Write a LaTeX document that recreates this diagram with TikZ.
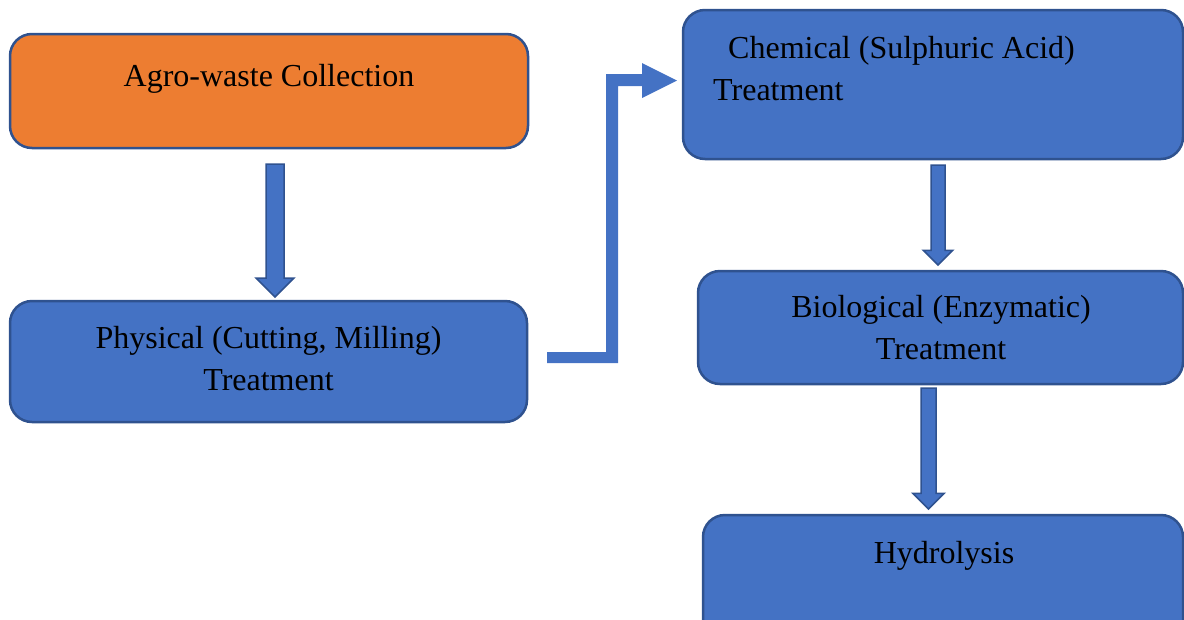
\documentclass[tikz,border=0pt]{standalone}
\usepackage{fontspec}
\setmainfont{Liberation Serif}
\usetikzlibrary{positioning}
\definecolor{boxblue}{HTML}{4472C4}
\definecolor{boxorange}{HTML}{ED7D31}
\definecolor{boxline}{HTML}{2F528F}
\begin{document}
\begin{tikzpicture}
			[
				x = 1pt, y = -1pt,
				mybox/.style = {draw = boxline, line width = 2.5pt, rounded corners = 22pt, fill = boxblue, inner sep = 0pt},
				mytext/.style = {font = \fontsize{32}{42.5}\selectfont, inner sep = 0pt, anchor = base},
				myarrow/.style = {fill = boxblue, draw = boxline, line width = 1.5pt},
				pics/blockdown/.style 2 args = {code = {
					\filldraw [myarrow] (-#2, 0) -- (#2, 0) -- (#2, #1 - 2.1*#2) -- (2.1*#2, #1 - 2.1*#2) -- (0, #1) -- (-2.1*#2, #1 - 2.1*#2) -- (-#2, #1 - 2.1*#2) -- cycle;
				}}
			]
			%
			\useasboundingbox (0, 0) rectangle (1184, 619);
			%
			\node (collect) [mybox, fill = boxorange, minimum width = 518pt, minimum height = 114pt] at (269, 91) {};
			\node (collecttext) [mytext] at (269, 86) {Agro-waste Collection};
			%
			\node (physical) [mybox, minimum width = 517pt, minimum height = 121pt] at (268.5, 361.5) {};
			\node (physicaltext) [mytext] at (268.5, 348) {Physical (Cutting, Milling)};
			\node (physicaltext2) [mytext, below = 0pt of physicaltext.base, anchor = base, yshift = -42.5pt] {Treatment};
			%
			\node (chemical) [mybox, minimum width = 500pt, minimum height = 149pt] at (933, 84.5) {};
			\node (chemicaltext) [mytext, anchor = base west] at (728, 58) {Chemical (Sulphuric Acid)};
			\node (chemicaltext2) [mytext, anchor = base west] at (713, 100.5) {Treatment};
			%
			\node (biological) [mybox, minimum width = 485pt, minimum height = 113pt] at (940.5, 327.5) {};
			\node (biologicaltext) [mytext] at (941, 317) {Biological (Enzymatic)};
			\node (biologicaltext2) [mytext] at (941, 359.5) {Treatment};
			%
			\node (hydrolysis) [mybox, minimum width = 480pt, minimum height = 130pt] at (943, 580) {};
			\node (hydrolysistext) [mytext] at (944, 563) {Hydrolysis};
			%
			\pic at (275, 164) {blockdown = {133}{9}};
			\pic at (938, 165) {blockdown = {100}{7}};
			\pic at (928.5, 388) {blockdown = {121}{7.5}};
			%
			\fill [boxblue] (547, 352) -- (606, 352) -- (606, 74) -- (642, 74) -- (642, 63) -- (677, 80.5) -- (642, 98) -- (642, 86) -- (618, 86) -- (618, 363) -- (547, 363) -- cycle;
			%
		\end{tikzpicture}
\end{document}
